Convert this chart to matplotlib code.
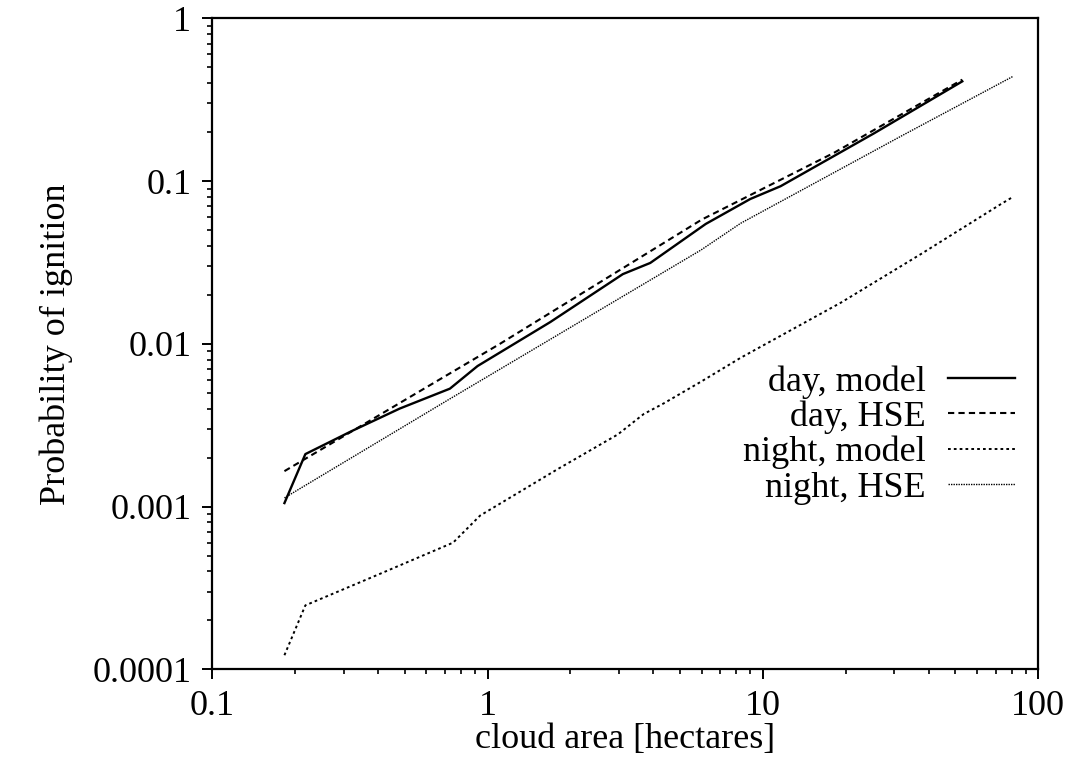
import matplotlib
matplotlib.use('Agg')
import matplotlib.pyplot as plt
from matplotlib.ticker import LogLocator, FixedLocator, FuncFormatter, NullFormatter

plt.rcParams['font.family'] = ['Liberation Serif', 'DejaVu Serif']
plt.rcParams['font.size'] = 26

# values (cloud area [ha], probability)
day_model_x = [0.183, 0.218, 0.32, 0.48, 0.73, 0.92, 1.69, 3.1, 3.9, 6.2, 9.0, 11.6, 25.4, 53]
day_model_y = [0.00105, 0.0021, 0.0029, 0.004, 0.0053, 0.0073, 0.0136, 0.0268, 0.0314, 0.0545, 0.0776, 0.093, 0.197, 0.41]

day_hse_x = [0.183, 1.11, 6.0, 18.1, 53]
day_hse_y = [0.00165, 0.010, 0.058, 0.149, 0.42]

night_model_x = [0.183, 0.218, 0.41, 0.75, 0.94, 1.8, 2.97, 3.69, 4.36, 5.96, 8.3, 19.2, 37.6, 73, 81]
night_model_y = [0.000122, 0.000247, 0.000388, 0.0006, 0.00088, 0.0017, 0.00277, 0.0037, 0.0043,
                 0.00585, 0.0082, 0.0179, 0.0357, 0.072, 0.08]

night_hse_x = [0.183, 0.716, 5.96, 8.3, 31.8, 81]
night_hse_y = [0.00113, 0.0045, 0.0377, 0.055, 0.189, 0.44]

fig = plt.figure(figsize=(10.77, 7.64), dpi=100)
ax = fig.add_axes([0.197, 0.124, 0.767, 0.852])

ax.plot(day_model_x, day_model_y, color='k', lw=1.7, label='day, model')
ax.plot(day_hse_x, day_hse_y, color='k', lw=1.5, dashes=(3.0, 2.0), label='day, HSE')
ax.plot(night_model_x, night_model_y, color='k', lw=1.4, dashes=(1.4, 1.6), label='night, model')
ax.plot(night_hse_x, night_hse_y, color='k', lw=1.0, dashes=(1.0, 0.8), label='night, HSE')

ax.set_xscale('log')
ax.set_yscale('log')
ax.set_xlim(0.1, 100)
ax.set_ylim(0.0001, 1)

fmt = FuncFormatter(lambda v, p: '%g' % v)
ax.xaxis.set_major_locator(FixedLocator([0.1, 1, 10, 100]))
ax.yaxis.set_major_locator(FixedLocator([0.0001, 0.001, 0.01, 0.1, 1]))
ax.xaxis.set_major_formatter(fmt)
ax.yaxis.set_major_formatter(fmt)
ax.xaxis.set_minor_locator(LogLocator(base=10, subs=range(2, 10)))
ax.yaxis.set_minor_locator(LogLocator(base=10, subs=range(2, 10)))
ax.xaxis.set_minor_formatter(NullFormatter())
ax.yaxis.set_minor_formatter(NullFormatter())

ax.tick_params(which='major', direction='out', length=7, width=1.4, pad=8)
ax.tick_params(which='minor', direction='out', length=3.5, width=1.2)
for s in ax.spines.values():
    s.set_linewidth(1.6)

ax.set_xlabel('cloud area [hectares]', labelpad=0)
ax.set_ylabel('Probability of ignition', labelpad=14)

ax.legend(loc='center right', bbox_to_anchor=(0.972, 0.36), frameon=False,
          markerfirst=False, handlelength=1.85, handletextpad=0.63,
          labelspacing=0.05, borderpad=0, borderaxespad=0)

fig.savefig('out.png', dpi=100)
